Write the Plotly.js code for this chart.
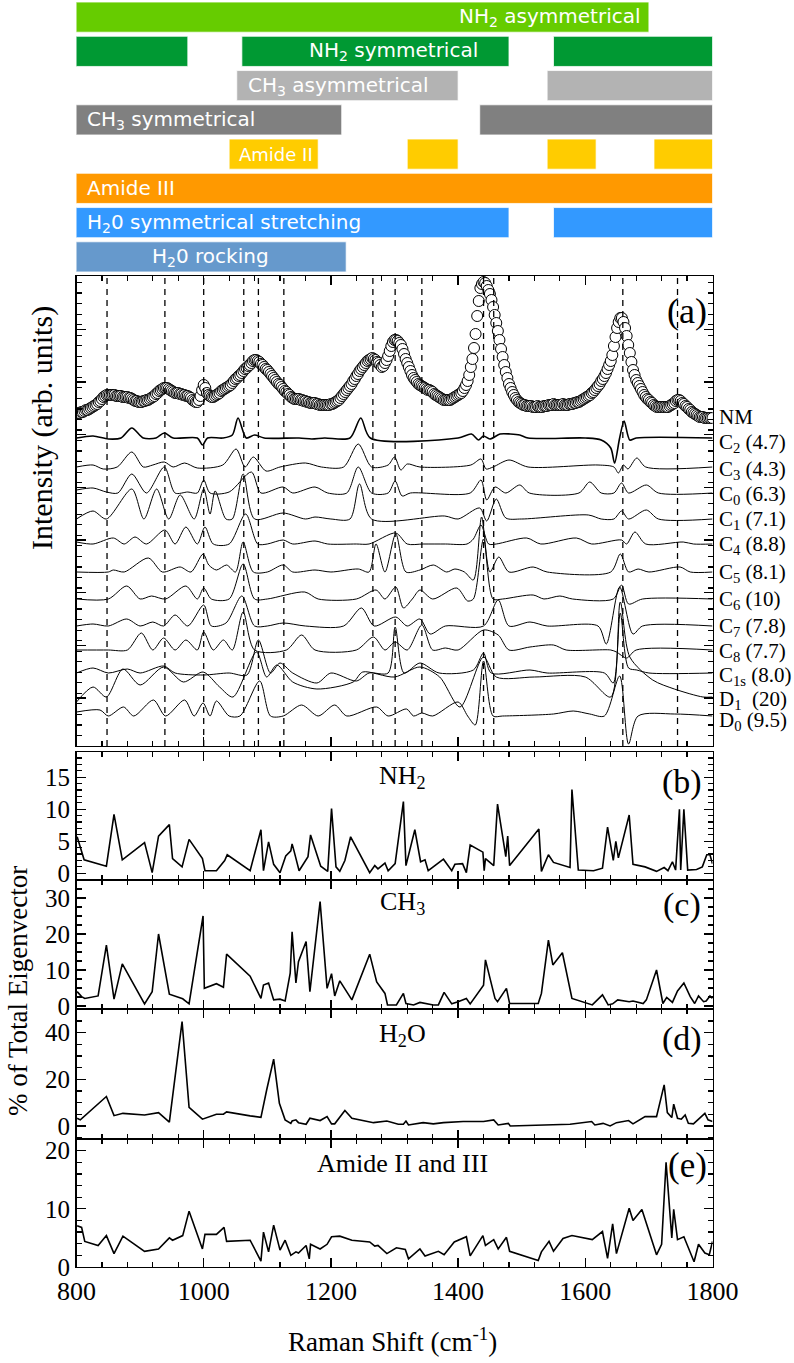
<!DOCTYPE html>
<html><head><meta charset="utf-8">
<script src="https://cdn.plot.ly/plotly-3.0.1.min.js"></script>
<style>html,body{margin:0;padding:0;background:#fff}#chart{width:794px;height:1363px}</style>
</head><body><div id="chart"></div>
<script>
// ---------- Assignment bars (cm^-1 start / end of each segment) ----------
const bandNames = ["NH<sub>2</sub> asymmetrical","NH<sub>2</sub> symmetrical","CH<sub>3</sub> asymmetrical","CH<sub>3</sub> symmetrical","Amide II","Amide III","H<sub>2</sub>0 symmetrical stretching","H<sub>2</sub>0 rocking"];
const bandStarts = [[798],[798,1060,1550],[1052,1540],[798,1434],[1040,1320,1540,1708],[798],[798,1550],[798]];
const bandEnds   = [[1700],[975,1480,1800],[1400,1800],[1217,1800],[1180,1400,1617,1800],[1800],[1480,1800],[1224]];
const bandColors = ["#66cc00","#009933","#b3b3b3","#808080","#ffcc00","#ff9900","#3399ff","#6699cc"];

// ---------- Panel (a): measured spectrum (NM) ----------
const nmX = [800,802.5,805,807.5,810,812.5,815,817.5,820,822.5,825,827.5,830,832.5,835,837.5,840,842.5,845,847.5,
850,852.5,855,857.5,860,862.5,865,867.5,870,872.5,875,877.5,880,882.5,885,887.5,890,892.5,895,897.5,
900,902.5,905,907.5,910,912.5,915,917.5,920,922.5,925,927.5,930,932.5,935,937.5,940,942.5,945,947.5,
950,952.5,955,957.5,960,962.5,965,967.5,970,972.5,975,977.5,980,982.5,985,987.5,990,992.5,995,997.5,
1000,1002.5,1005,1007.5,1010,1012.5,1015,1017.5,1020,1022.5,1025,1027.5,1030,1032.5,1035,1037.5,1040,1042.5,1045,1047.5,
1050,1052.5,1055,1057.5,1060,1062.5,1065,1067.5,1070,1072.5,1075,1077.5,1080,1082.5,1085,1087.5,1090,1092.5,1095,1097.5,
1100,1102.5,1105,1107.5,1110,1112.5,1115,1117.5,1120,1122.5,1125,1127.5,1130,1132.5,1135,1137.5,1140,1142.5,1145,1147.5,
1150,1152.5,1155,1157.5,1160,1162.5,1165,1167.5,1170,1172.5,1175,1177.5,1180,1182.5,1185,1187.5,1190,1192.5,1195,1197.5,
1200,1202.5,1205,1207.5,1210,1212.5,1215,1217.5,1220,1222.5,1225,1227.5,1230,1232.5,1235,1237.5,1240,1242.5,1245,1247.5,
1250,1252.5,1255,1257.5,1260,1262.5,1265,1267.5,1270,1272.5,1275,1277.5,1280,1282.5,1285,1287.5,1290,1292.5,1295,1297.5,
1300,1302.5,1305,1307.5,1310,1312.5,1315,1317.5,1320,1322.5,1325,1327.5,1330,1332.5,1335,1337.5,1340,1342.5,1345,1347.5,
1350,1352.5,1355,1357.5,1360,1362.5,1365,1367.5,1370,1372.5,1375,1377.5,1380,1382.5,1385,1387.5,1390,1392.5,1395,1397.5,
1400,1402.5,1405,1407.5,1410,1412.5,1415,1417.5,1420,1422.5,1425,1427.5,1430,1432.5,1435,1437.5,1440,1442.5,1445,1447.5,
1450,1452.5,1455,1457.5,1460,1462.5,1465,1467.5,1470,1472.5,1475,1477.5,1480,1482.5,1485,1487.5,1490,1492.5,1495,1497.5,
1500,1502.5,1505,1507.5,1510,1512.5,1515,1517.5,1520,1522.5,1525,1527.5,1530,1532.5,1535,1537.5,1540,1542.5,1545,1547.5,
1550,1552.5,1555,1557.5,1560,1562.5,1565,1567.5,1570,1572.5,1575,1577.5,1580,1582.5,1585,1587.5,1590,1592.5,1595,1597.5,
1600,1602.5,1605,1607.5,1610,1612.5,1615,1617.5,1620,1622.5,1625,1627.5,1630,1632.5,1635,1637.5,1640,1642.5,1645,1647.5,
1650,1652.5,1655,1657.5,1660,1662.5,1665,1667.5,1670,1672.5,1675,1677.5,1680,1682.5,1685,1687.5,1690,1692.5,1695,1697.5,
1700,1702.5,1705,1707.5,1710,1712.5,1715,1717.5,1720,1722.5,1725,1727.5,1730,1732.5,1735,1737.5,1740,1742.5,1745,1747.5,
1750,1752.5,1755,1757.5,1760,1762.5,1765,1767.5,1770,1772.5,1775,1777.5,1780,1782.5,1785,1787.5,1790,1792.5,1795,1797.5,1800];
const nmY = [332,333,333,334,334,335,336,336,337,338,339,340,341,342,344,345,347,349,350,351,
351,351,351,351,351,350,350,350,350,349,349,349,349,348,348,347,346,345,345,344,
344,344,345,345,346,346,347,348,349,350,352,353,355,356,357,358,358,358,357,356,
355,354,353,353,353,352,352,351,351,350,350,349,348,346,345,344,344,346,350,356,
361,358,353,351,350,349,349,350,351,352,353,355,356,357,358,359,360,361,363,365,
367,368,370,371,373,375,377,378,380,381,383,385,386,386,385,384,382,381,379,377,
376,374,372,370,368,366,364,362,361,359,357,355,354,352,351,349,348,347,347,347,
347,346,346,345,345,344,344,343,343,343,343,342,342,341,341,341,341,341,341,341,
342,342,343,344,345,346,348,350,352,354,356,358,360,362,365,367,370,372,375,377,
379,381,383,385,386,387,388,387,386,384,383,381,379,380,383,386,390,395,400,404,
406,406,405,403,401,397,392,387,383,379,375,371,368,366,364,362,361,360,359,358,
357,356,356,355,354,352,351,350,349,348,347,346,346,346,346,346,347,348,349,350,
351,352,353,355,358,361,365,371,379,387,398,412,430,445,458,462,464,463,460,456,
452,446,439,431,423,415,406,397,389,381,374,368,362,358,354,351,348,346,344,343,
342,341,341,340,340,340,340,339,339,339,340,339,339,339,340,340,340,341,341,341,
342,341,341,341,341,341,342,341,341,341,342,342,342,343,343,344,344,345,346,347,
348,349,350,351,353,354,356,358,360,362,365,367,370,373,377,381,385,391,400,409,
418,424,428,428,424,418,410,401,393,384,376,371,366,363,360,357,354,351,349,347,
346,344,343,341,340,339,339,339,339,339,339,339,339,340,341,342,343,345,346,346,
345,343,342,340,339,337,336,334,333,332,331,330,329,329,329,328,328,328,328,328,328];

// ---------- Panel (a): principal components (offset and shape) ----------
const compNames = ["C<sub>2</sub> (4.7)","C<sub>3</sub> (4.3)","C<sub>0</sub> (6.3)","C<sub>1</sub> (7.1)","C<sub>4</sub> (8.8)","C<sub>5</sub> (8.1)","C<sub>6</sub> (10)","C<sub>7</sub> (7.8)","C<sub>8</sub> (7.7)","C<sub>1s</sub> (8.0)","D<sub>1</sub>  (20)","D<sub>0</sub> (9.5)"];
const compOffsets = [308,279,253,227,202,174,147,120,96,73,49,30];
const c2X = [800,826,850,870,887,905,925,938,952,990,998,1006,1030,1045,1054,1067,1080,1095,1150,1170,1190,1230,1247,1262,1400,1421,1432,1440,1450,1466,1482,1497,1510,1600,1625,1640,1646,1654,1661,1670,1680,1800];
const c2Y = [0,2,-1,0,10,0,0,5,0,0,-7,0,0,3,20,0,3,0,0,-1,0,0,20,0,0,4,-2,2,-1,4,4,3,0,0,-2,-10,-25,0,17,-2,0,0];
const c3X = [800,826,842,864,887,905,920,938,952,970,990,1030,1051,1065,1078,1098,1120,1160,1185,1220,1243,1264,1290,1300,1310,1320,1340,1420,1436,1444,1455,1480,1510,1620,1645,1652,1660,1667,1681,1695,1800];
const c3Y = [0,2,-2,0,15,0,2,5,0,4,-1,2,18,0,10,-4,0,4,0,0,23,0,2,10,-3,3,0,2,8,-2,0,7,0,2,0,-6,2,-2,9,0,0];
const c0X = [800,826,847,865,887,910,938,955,975,990,1000,1010,1040,1075,1090,1125,1140,1175,1195,1225,1243,1264,1290,1301,1312,1325,1419,1436,1445,1458,1475,1497,1512,1590,1607,1625,1645,1657,1668,1696,1715,1800];
const c0Y = [3,5,1,0,19,0,26,0,1,0,13,0,1,21,0,6,0,6,0,0,26,0,0,12,-3,0,0,13,-7,6,0,8,0,0,11,0,0,10,0,8,0,0];
const c1X = [800,826,847,887,906,926,945,963,985,1000,1010,1018,1035,1045,1062,1080,1125,1160,1175,1200,1230,1245,1264,1379,1400,1434,1445,1460,1475,1500,1605,1625,1645,1657,1668,1696,1715,1800];
const c1Y = [0,8,0,30,0,30,0,24,0,30,5,28,0,0,45,0,6,0,2,0,0,35,0,3,0,11,-2,20,1,0,4,0,0,8,0,9,0,0];
const c4X = [800,826,858,875,892,910,939,955,972,990,1002,1015,1040,1066,1085,1100,1125,1140,1175,1195,1240,1260,1302,1320,1345,1380,1414,1424,1436,1448,1460,1508,1530,1586,1610,1657,1665,1678,1695,1754,1770,1800];
const c4Y = [2,0,6,0,7,0,14,0,17,0,17,0,0,30,0,0,4,0,3,0,0,0,11,0,0,0,0,5,19,0,0,6,0,6,0,4,0,12,0,2,0,0];
const c5X = [800,850,858,875,913,935,963,980,999,1008,1020,1036,1050,1062,1078,1100,1125,1140,1175,1200,1243,1260,1271,1285,1302,1318,1340,1361,1382,1395,1410,1424,1437,1450,1464,1480,1518,1540,1640,1655,1668,1683,1700,1749,1765,1800];
const c5Y = [0,0,2,0,14,0,5,0,18,7,2,7,0,30,0,0,7,0,2,0,3,0,28,0,38,0,2,7,0,3,0,-8,55,0,15,0,5,0,0,18,0,3,0,5,0,0];
const c6X = [800,850,879,900,918,940,972,990,1000,1012,1040,1062,1080,1100,1159,1180,1240,1271,1285,1302,1314,1328,1340,1360,1398,1415,1424,1440,1455,1470,1518,1535,1560,1580,1644,1657,1668,1690,1800];
const c6Y = [0,0,13,0,3,0,13,0,11,0,0,35,0,0,7,0,0,9,0,12,-9,0,9,0,11,-2,0,60,0,0,4,0,3,0,0,14,-5,0,0];
const c7X = [800,826,850,879,900,920,937,955,975,1000,1012,1035,1060,1080,1100,1125,1160,1220,1248,1268,1302,1320,1340,1356,1380,1440,1463,1480,1513,1540,1620,1633,1654,1675,1690,1800];
const c7Y = [0,2,0,7,0,4,0,11,0,21,0,3,30,0,0,3,0,0,18,0,9,0,7,-8,0,0,26,0,4,0,0,-18,39,-8,0,0];
const c8X = [800,850,880,902,920,937,955,972,990,1000,1015,1031,1045,1062,1080,1130,1154,1175,1240,1267,1285,1301,1320,1343,1360,1380,1400,1440,1463,1480,1513,1550,1570,1640,1649,1665,1680,1800];
const c8Y = [0,0,0,17,0,12,0,10,0,18,0,10,0,38,0,0,15,0,0,13,0,8,0,25,0,2,0,20,15,0,3,5,0,0,-2,-8,0,0];
const c1sX = [800,826,850,880,900,937,955,1000,1040,1068,1086,1105,1120,1140,1178,1200,1240,1260,1290,1301,1315,1340,1370,1424,1440,1452,1513,1540,1630,1644,1655,1668,1681,1700,1800];
const c1sY = [0,5,0,4,0,7,0,-2,0,-2,33,0,10,0,-10,0,-8,0,0,46,0,10,0,3,20,0,3,0,0,-10,60,5,3,0,0];
const d1X = [800,826,847,873,900,937,968,999,1025,1046,1083,1099,1115,1140,1178,1235,1250,1300,1340,1371,1403,1440,1460,1520,1600,1640,1655,1670,1706,1740,1785,1800];
const d1Y = [-5,10,0,28,12,30,15,25,10,0,45,20,32,15,8,15,25,20,30,20,-10,40,20,20,20,0,95,40,17,8,0,0];
const d0X = [800,837,850,874,890,921,940,970,985,999,1010,1020,1040,1057,1088,1105,1125,1154,1180,1206,1225,1272,1290,1319,1330,1343,1360,1400,1415,1427,1440,1455,1470,1550,1581,1607,1630,1654,1668,1683,1740,1800];
const d0Y = [4,6,0,9,0,16,0,16,0,13,0,15,0,0,35,0,0,11,0,11,0,9,0,7,0,3,0,14,0,-9,55,0,0,2,5,2,0,40,-28,0,2,0];
const compX = [c2X,c3X,c0X,c1X,c4X,c5X,c6X,c7X,c8X,c1sX,d1X,d0X];
const compY = [c2Y,c3Y,c0Y,c1Y,c4Y,c5Y,c6Y,c7Y,c8Y,c1sY,d1Y,d0Y];
const dashedLines = [848,939,1000,1063,1086,1126,1266,1301,1343,1440,1456,1659,1745];

// ---------- Panels (b)-(e): % of total eigenvector ----------
const nh2X = [801,812,847,859,872,907,919,929,946,951,966,977,998,1002,1020,1033,1037,1073,1090,1094,1102,1110,1120,1129,1137,1139,1142,1150,1164,1168,1184,1195,1201,1208,1214,1222,1231,1261,1269,1274,1285,1290,1301,1314,1318,1332,1341,1348,1353,1377,1390,1395,1407,1413,1419,1439,1441,1443,1456,1462,1475,1478,1481,1527,1531,1542,1550,1576,1579,1589,1613,1627,1635,1644,1648,1652,1669,1675,1694,1712,1724,1730,1737,1742,1748,1750,1755,1761,1775,1784,1791,1796,1800];
const nh2Y = [5.7,2.1,1.1,9.2,2.1,4.8,0.1,5.8,7.6,2.3,1.0,5.3,2.3,0.4,0.4,2.0,2.9,0.4,6.8,0.4,4.9,1.4,0.1,2.7,3.5,4.6,3.5,0.4,2.6,6.0,1.1,0.3,10.1,1.0,0.3,2.0,5.7,0.1,1.2,0.7,1.6,0.4,1.5,11.2,1.2,6.8,1.8,2.1,0.4,2.2,0.4,1.4,1.5,0.1,4.4,3.3,0.4,2.3,1.2,10.8,2.6,5.8,1.2,6.9,0.3,2.9,1.7,0.9,13.1,0.5,0.4,0.8,7.2,2.0,5.0,2.4,9.1,1.4,1.0,0.3,0.9,0.4,1.8,0.5,10.0,0.5,10.0,0.5,0.6,1.0,2.9,2.9,1.5];
const ch3X = [801,808,813,834,847,859,872,907,919,929,946,967,977,999,1001,1020,1031,1036,1073,1090,1094,1102,1110,1120,1128,1136,1139,1145,1149,1161,1167,1183,1194,1201,1206,1214,1233,1261,1272,1285,1289,1303,1314,1318,1330,1340,1361,1369,1378,1390,1400,1413,1419,1440,1443,1458,1462,1476,1481,1526,1531,1542,1549,1564,1579,1602,1611,1627,1636,1643,1651,1669,1675,1691,1696,1712,1722,1728,1737,1745,1755,1765,1772,1778,1786,1790,1796,1800];
const ch3Y = [4.0,2.6,2.1,2.8,16.9,1.9,11.7,0.6,4.0,20.0,3.3,2.0,0.6,25.0,4.9,6.2,5.2,14.4,8.3,2.1,5.8,6.4,1.7,1.9,1.4,9.1,20.6,6.4,12.3,17.9,4.0,29.0,4.9,9.0,2.8,7.0,1.7,14.4,6.7,3.5,0.3,0.3,3.5,0.7,0.3,1.0,0.3,0.3,3.8,0.6,1.2,2.1,0.6,5.8,12.8,2.1,1.2,4.9,0.7,0.7,3.5,18.3,11.4,14.8,2.1,0.7,0.3,3.1,0.3,0.6,1.7,1.2,1.4,0.7,1.7,10.0,0.7,2.4,1.0,4.2,6.4,2.6,0.7,2.8,1.2,1.4,2.8,2.1];
const h2oX = [801,806,847,859,873,907,929,946,966,977,998,1020,1031,1036,1073,1090,1099,1110,1119,1128,1137,1139,1145,1149,1161,1167,1183,1194,1201,1206,1222,1233,1267,1288,1306,1314,1318,1322,1345,1361,1377,1408,1440,1456,1463,1479,1482,1531,1576,1610,1615,1628,1639,1649,1668,1675,1694,1712,1724,1729,1736,1739,1745,1751,1757,1762,1770,1788,1793,1800];
const h2oY = [3.3,2.6,12.6,4.4,5.4,4.7,5.7,1.6,44.7,8.0,2.9,5.0,5.0,6.0,4.3,3.7,15.4,28.6,9.7,2.6,1.1,2.1,2.6,1.4,0.7,3.3,2.3,4.0,0.9,0.9,6.6,3.3,1.4,2.1,0.7,0.7,2.1,0.4,1.4,0.9,1.4,1.9,1.9,2.6,0.4,1.1,0.0,0.4,0.7,1.9,0.4,1.1,0.0,1.4,2.3,0.9,4.0,4.0,17.6,5.7,3.6,9.3,3.3,2.9,4.7,1.1,0.9,5.4,2.6,1.9];
const amideX = [801,808,813,834,847,859,873,907,929,946,951,967,977,998,1002,1020,1032,1036,1073,1090,1094,1102,1110,1120,1128,1137,1145,1149,1161,1166,1168,1183,1194,1201,1214,1233,1261,1269,1274,1288,1303,1317,1322,1340,1348,1369,1378,1394,1413,1419,1439,1443,1456,1463,1476,1481,1526,1531,1543,1550,1565,1579,1611,1627,1635,1643,1649,1669,1675,1689,1712,1720,1727,1736,1739,1745,1755,1763,1771,1778,1788,1795,1800];
const amideY = [7.1,6.8,4.4,3.7,5.4,2.3,5.3,2.7,3.1,5.0,4.6,5.4,9.6,3.1,5.6,5.6,6.8,4.4,4.6,1.0,6.0,2.6,7.2,2.9,4.6,2.0,2.6,2.4,3.7,1.4,3.9,3.1,3.9,5.2,5.3,4.6,4.3,3.6,3.7,2.3,3.3,3.0,1.4,3.1,1.9,2.7,2.1,4.3,5.2,1.9,5.4,3.7,4.7,3.1,5.1,2.7,1.1,2.6,4.4,2.7,4.9,5.4,4.7,6.1,1.5,7.4,2.3,10.1,8.0,9.9,2.1,3.9,18.0,5.0,9.9,4.7,5.2,3.1,0.9,3.9,2.4,2.1,4.4];

// ---------- Figure ----------
const W = 794, H = 1363;
const xL = 76.5 / W, xR = 712.5 / W;
const py = p => 1 - p / H;
const serif = "Liberation Serif, Times New Roman, serif";
const sans = "DejaVu Sans, sans-serif";
const nRows = bandNames.length;

const traces = [];
// bars (row 0 on top)
bandNames.forEach((nm, i) => {
  traces.push({
    type: "bar", orientation: "h", xaxis: "x6", yaxis: "y6",
    base: bandStarts[i], x: bandEnds[i].map((e, k) => e - bandStarts[i][k]),
    y: bandStarts[i].map(() => nRows - 1 - i), width: 0.88, offset: -0.44,
    marker: {color: bandColors[i], line: {color: "rgba(255,255,255,0.75)", width: 1}},
    hoverinfo: "skip", showlegend: false
  });
});
// NM spectrum
traces.push({type: "scatter", mode: "markers", x: nmX, y: nmY, xaxis: "x5", yaxis: "y5",
  marker: {symbol: "circle", size: 11, color: "#ffffff", line: {color: "#000000", width: 1}},
  showlegend: false, hoverinfo: "skip"});
// components
compX.forEach((xs, i) => {
  traces.push({type: "scatter", mode: "lines", x: xs, y: compY[i].map(v => v + compOffsets[i]),
    xaxis: "x5", yaxis: "y5", line: {color: "#000", width: i === 0 ? 1.6 : 1, shape: "spline", smoothing: 0.8},
    showlegend: false, hoverinfo: "skip"});
});
// eigenvector panels
[[nh2X, nh2Y, "x4", "y4"], [ch3X, ch3Y, "x3", "y3"], [h2oX, h2oY, "x2", "y2"], [amideX, amideY, "x", "y"]].forEach(p => {
  traces.push({type: "scatter", mode: "lines", x: p[0], y: p[1], xaxis: p[2], yaxis: p[3],
    line: {color: "#000", width: 1.6}, showlegend: false, hoverinfo: "skip"});
});

const xBase = (labels) => ({
  domain: [xL, xR], range: [800, 1800], autorange: false, showgrid: false, zeroline: false,
  showline: true, linecolor: "#000", linewidth: 1.4, mirror: "ticks",
  ticks: "inside", ticklen: 9, tickwidth: 1.3, tickcolor: "#000", dtick: 200, tick0: 800,
  minor: {dtick: 40, ticklen: 5, tickwidth: 1.2, tickcolor: "#000", ticks: "inside"},
  showticklabels: labels, tickfont: {family: serif, size: 26, color: "#000"}, fixedrange: true
});
const yBase = (dom, range, dtick, minor, labels) => ({
  domain: dom, range: range, autorange: false, showgrid: false, zeroline: false,
  showline: true, linecolor: "#000", linewidth: 1.4, mirror: "ticks",
  ticks: "inside", ticklen: 9, tickwidth: 1.3, tickcolor: "#000", dtick: dtick, tick0: 0,
  minor: {dtick: minor, ticklen: 5, tickwidth: 1.2, tickcolor: "#000", ticks: "inside"},
  showticklabels: labels, tickfont: {family: serif, size: 25, color: "#000"}, fixedrange: true
});

const layout = {
  width: W, height: H, margin: {l: 0, r: 0, t: 0, b: 0},
  paper_bgcolor: "#fff", plot_bgcolor: "rgba(0,0,0,0)", showlegend: false, barmode: "overlay", bargap: 0,
  xaxis: Object.assign(xBase(true), {anchor: "y"}),
  xaxis2: Object.assign(xBase(false), {anchor: "y2"}),
  xaxis3: Object.assign(xBase(false), {anchor: "y3"}),
  xaxis4: Object.assign(xBase(false), {anchor: "y4"}),
  xaxis5: Object.assign(xBase(false), {anchor: "y5"}),
  xaxis6: {domain: [xL, xR], range: [800, 1800], autorange: false, anchor: "y6", fixedrange: true,
    showline: false, showgrid: false, zeroline: false, showticklabels: false, ticks: ""},
  yaxis: Object.assign(yBase([py(1267), py(1139)], [0, 22], 10, 2, true), {anchor: "x"}),
  yaxis2: Object.assign(yBase([py(1139), py(1009)], [-5.6, 50.1], 20, 5, true), {anchor: "x2"}),
  yaxis3: Object.assign(yBase([py(1009), py(880)], [-0.83, 35], 10, 2.5, true), {anchor: "x3"}),
  yaxis4: Object.assign(yBase([py(880), py(752)], [-1.05, 18.95], 5, 1, true), {anchor: "x4"}),
  yaxis5: Object.assign(yBase([py(746), py(276)], [0, 470], 52.67, 10.534, false), {anchor: "x5", tick0: 48}),
  yaxis6: {domain: [py(274), 1], range: [-0.5, nRows - 0.5], autorange: false, anchor: "x6", fixedrange: true,
    showline: false, showgrid: false, zeroline: false, showticklabels: false, ticks: ""},
  shapes: dashedLines.map(w => ({type: "line", xref: "x5", yref: "y5 domain", x0: w, x1: w, y0: 0, y1: 1,
    line: {color: "#000", width: 1.3, dash: "6px,5px"}})),
  annotations: []
};

const ann = layout.annotations;
// bar labels
const barLabelPos = [[1545, "center", 20], [1298, "center", 20], [1066, "left", 20], [813, "left", 20], [1052, "left", 18], [813, "left", 20], [813, "left", 20], [1010, "center", 20]];
bandNames.forEach((nm, i) => {
  ann.push({xref: "x6", yref: "y6", x: barLabelPos[i][0], y: nRows - 1 - i, text: nm, showarrow: false,
    xanchor: barLabelPos[i][1], yanchor: "middle", font: {family: sans, size: barLabelPos[i][2], color: "#fff"}});
});
// component labels
const lblY = [329, 303, 276.5, 251, 226, 201, 173, 146, 119, 94, 70, 46, 25.5];
["NM"].concat(compNames).forEach((t, i) => {
  ann.push({xref: "paper", yref: "y5", x: 717 / W, y: lblY[i], text: t, showarrow: false,
    xanchor: "left", yanchor: "middle", font: {family: serif, size: 21, color: "#000"}});
});
// panel letters
[["(a)", 687, 311, 36], ["(b)", 682, 782, 34], ["(c)", 682, 905, 34], ["(d)", 682, 1039, 34], ["(e)", 687, 1165, 35]].forEach(a => {
  ann.push({xref: "paper", yref: "paper", x: a[1] / W, y: py(a[2]), text: a[0], showarrow: false,
    xanchor: "center", yanchor: "middle", font: {family: serif, size: a[3], color: "#000"}});
});
// panel titles
[["NH<sub>2</sub>", 777], ["CH<sub>3</sub>", 903], ["H<sub>2</sub>O", 1035], ["Amide II and III", 1163]].forEach(a => {
  ann.push({xref: "paper", yref: "paper", x: 402 / W, y: py(a[1]), text: a[0], showarrow: false,
    xanchor: "center", yanchor: "middle", font: {family: serif, size: 26, color: "#000"}});
});
// axis titles
ann.push({xref: "paper", yref: "paper", x: 42 / W, y: py(428), text: "Intensity (arb. units)", textangle: -90,
  showarrow: false, xanchor: "center", yanchor: "middle", font: {family: serif, size: 30, color: "#000"}});
ann.push({xref: "paper", yref: "paper", x: 18 / W, y: py(991), text: "% of Total Eigenvector", textangle: -90,
  showarrow: false, xanchor: "center", yanchor: "middle", font: {family: serif, size: 27, color: "#000"}});
ann.push({xref: "paper", yref: "paper", x: 392 / W, y: py(1340), text: "Raman Shift (cm<sup>-1</sup>)",
  showarrow: false, xanchor: "center", yanchor: "middle", font: {family: serif, size: 27, color: "#000"}});

Plotly.newPlot("chart", traces, layout, {staticPlot: true, displayModeBar: false});
</script></body></html>
